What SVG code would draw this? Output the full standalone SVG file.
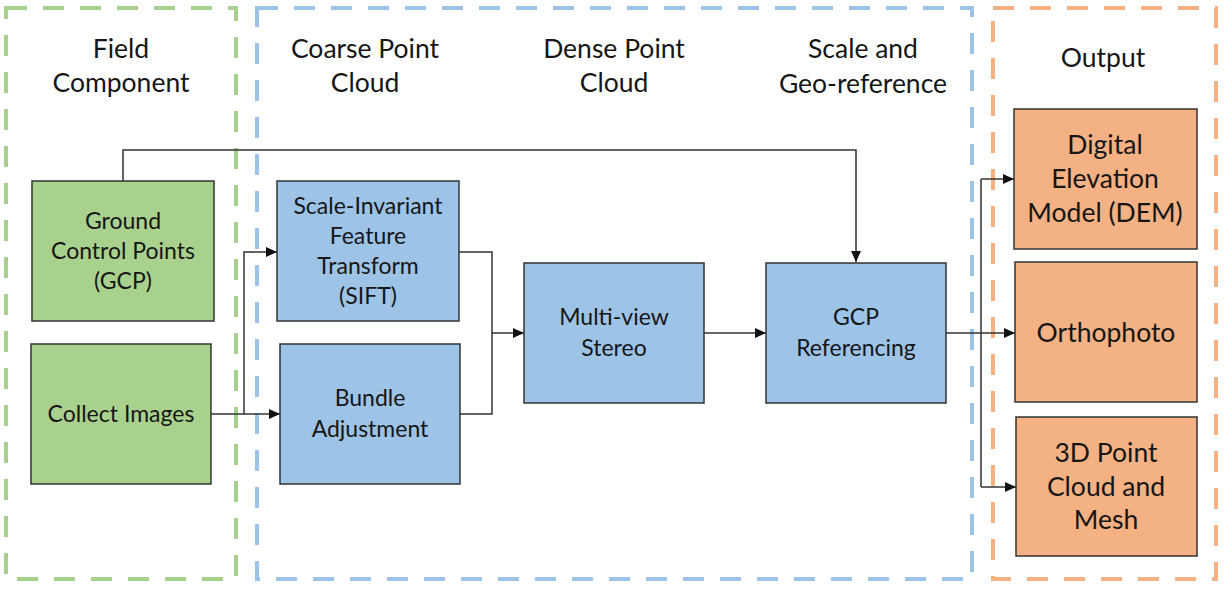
<svg xmlns="http://www.w3.org/2000/svg" width="1225" height="592" viewBox="0 0 1225 592">
  <style>
    .zone { fill: none; stroke-width: 4; stroke-dasharray: 21 16; }
    .z-green { stroke: #A9D18E; }
    .z-blue { stroke: #9DC3E6; }
    .z-orange { stroke: #F4B183; }
    .box { stroke: #333333; stroke-width: 1.5; }
    .green { fill: #A9D18E; }
    .blue { fill: #9DC3E6; }
    .orange { fill: #F4B183; }
    text { font-family: Lato, "Liberation Sans", sans-serif; fill: #161616; text-anchor: middle; }
    .hdr { font-size: 26.5px; }
    .lbl { font-size: 23px; }
    .out { font-size: 26.5px; }
    .wire { fill: none; stroke: #333333; stroke-width: 1.5; }
  </style>
  <defs>
    <marker id="arrow" markerUnits="userSpaceOnUse" markerWidth="12" markerHeight="12" refX="11" refY="5.5" orient="auto">
      <path d="M0,0.5 L11,5.5 L0,10.5 Z" fill="#111111"/>
    </marker>
  </defs>

  <rect width="1225" height="592" fill="#ffffff"/>

  <!-- stage zones -->
  <g id="zones">
    <rect class="zone z-green" x="6" y="8" width="230" height="571"/>
    <rect class="zone z-blue" x="257" y="8" width="715" height="571"/>
    <rect class="zone z-orange" x="993" y="8" width="223" height="571"/>
  </g>

  <!-- stage headings -->
  <g id="headings">
    <text class="hdr" x="121" y="58">Field</text>
    <text class="hdr" x="121" y="92">Component</text>
    <text class="hdr" x="365" y="58">Coarse Point</text>
    <text class="hdr" x="365" y="92">Cloud</text>
    <text class="hdr" x="614" y="58">Dense Point</text>
    <text class="hdr" x="614" y="92">Cloud</text>
    <text class="hdr" x="863" y="58">Scale and</text>
    <text class="hdr" x="863" y="93">Geo-reference</text>
    <text class="hdr" x="1103" y="67">Output</text>
  </g>

  <!-- connectors -->
  <g id="connectors">
    <path class="wire" d="M123,181 V150 H856 V262" marker-end="url(#arrow)"/>
    <path class="wire" d="M211,414 H244 V252 H277" marker-end="url(#arrow)"/>
    <path class="wire" d="M244,414 H280" marker-end="url(#arrow)"/>
    <path class="wire" d="M459,252 H492 V414 H460"/>
    <path class="wire" d="M492,333 H524" marker-end="url(#arrow)"/>
    <path class="wire" d="M704,333 H766" marker-end="url(#arrow)"/>
    <path class="wire" d="M946,333 H1015" marker-end="url(#arrow)"/>
    <path class="wire" d="M981,179 V487"/>
    <path class="wire" d="M981,179 H1014" marker-end="url(#arrow)"/>
    <path class="wire" d="M981,487 H1016" marker-end="url(#arrow)"/>
  </g>

  <g id="gcp">
    <rect class="box green" x="32" y="181" width="182" height="140"/>
    <text class="lbl" x="123" y="229">Ground</text>
    <text class="lbl" x="123" y="259">Control Points</text>
    <text class="lbl" x="123" y="289">(GCP)</text>
  </g>

  <g id="collect-images">
    <rect class="box green" x="31" y="344" width="180" height="140"/>
    <text class="lbl" x="121" y="422">Collect Images</text>
  </g>

  <g id="sift">
    <rect class="box blue" x="277" y="181" width="182" height="140"/>
    <text class="lbl" x="368" y="214">Scale-Invariant</text>
    <text class="lbl" x="368" y="244">Feature</text>
    <text class="lbl" x="368" y="274">Transform</text>
    <text class="lbl" x="368" y="304">(SIFT)</text>
  </g>

  <g id="bundle-adjustment">
    <rect class="box blue" x="280" y="344" width="180" height="140"/>
    <text class="lbl" x="370" y="406">Bundle</text>
    <text class="lbl" x="370" y="437">Adjustment</text>
  </g>

  <g id="multi-view-stereo">
    <rect class="box blue" x="524" y="263" width="180" height="140"/>
    <text class="lbl" x="614" y="325">Multi-view</text>
    <text class="lbl" x="614" y="356">Stereo</text>
  </g>

  <g id="gcp-referencing">
    <rect class="box blue" x="766" y="263" width="180" height="140"/>
    <text class="lbl" x="856" y="325">GCP</text>
    <text class="lbl" x="856" y="356">Referencing</text>
  </g>

  <g id="dem">
    <rect class="box orange" x="1014" y="109" width="183" height="140"/>
    <text class="out" x="1105" y="154">Digital</text>
    <text class="out" x="1105" y="188">Elevation</text>
    <text class="out" x="1105" y="222">Model (DEM)</text>
  </g>

  <g id="orthophoto">
    <rect class="box orange" x="1015" y="262" width="182" height="140"/>
    <text class="out" x="1106" y="342">Orthophoto</text>
  </g>

  <g id="point-cloud-mesh">
    <rect class="box orange" x="1016" y="417" width="181" height="139"/>
    <text class="out" x="1106" y="462">3D Point</text>
    <text class="out" x="1106" y="496">Cloud and</text>
    <text class="out" x="1106" y="529">Mesh</text>
  </g>
</svg>
